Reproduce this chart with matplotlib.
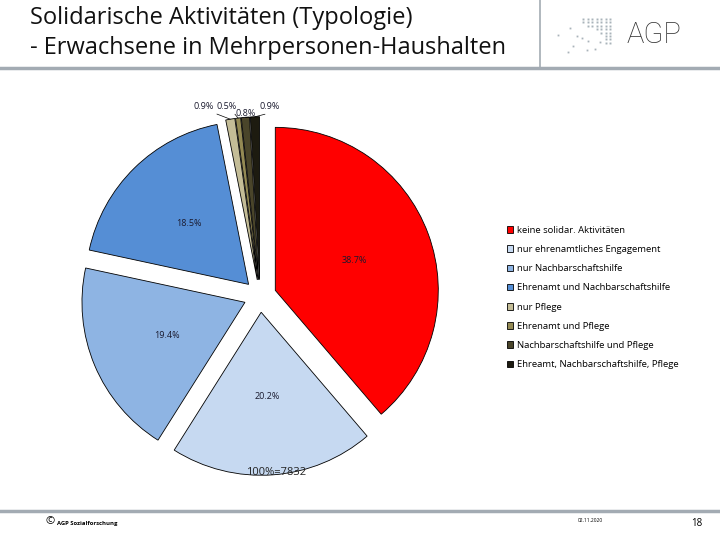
import numpy as np
import matplotlib
matplotlib.use('Agg')
import matplotlib.pyplot as plt
from matplotlib.lines import Line2D

plt.rcParams['font.family'] = ['Open Sans', 'DejaVu Sans']

# Data
categories = ['keine solidar. Aktivitäten',
              'nur ehrenamtliches Engagement',
              'nur Nachbarschaftshilfe',
              'Ehrenamt und Nachbarschaftshilfe',
              'nur Pflege',
              'Ehrenamt und Pflege',
              'Nachbarschaftshilfe und Pflege',
              'Ehreamt, Nachbarschaftshilfe, Pflege']
shares = [38.7, 20.2, 19.4, 18.5, 0.9, 0.5, 0.8, 0.9]
colors = ['#FF0000', '#C6D9F1', '#8EB4E3', '#558ED5',
          '#C4BD97', '#948A54', '#4A452A', '#1D1B10']
total_n = 7832

fig = plt.figure(figsize=(7.2, 5.4), dpi=100)

# header
fig.text(30 / 720, 1 - 18 / 540, 'Solidarische Aktivitäten (Typologie)',
         fontsize=17, va='center', ha='left', color='#111111')
fig.text(30 / 720, 1 - 48 / 540, '- Erwachsene in Mehrpersonen-Haushalten',
         fontsize=17, va='center', ha='left', color='#111111')
fig.add_artist(Line2D([0, 1], [1 - 68 / 540] * 2, color='#A3ABB3', lw=2.5))
fig.add_artist(Line2D([540 / 720] * 2, [1 - 68 / 540, 1], color='#A3ABB3', lw=1.2))
fig.text(627 / 720, 1 - 35 / 540, 'AGP', fontsize=21, va='center', ha='left',
         color='#333333', family=['Roboto', 'DejaVu Sans'], fontweight='light')

# dotted logo, drawn in pixel coordinates of the header
logo = fig.add_axes([550 / 720, 1 - 60 / 540, 70 / 720, 50 / 540])
logo.set_xlim(550, 620)
logo.set_ylim(60, 10)
logo.axis('off')
row_start = [0, 0, 1, 3, 4, 5, 5, 5]
for j, s in enumerate(row_start):
    for i in range(s, 7):
        logo.plot(583 + 4.5 * i, 19 + 3.4 * j, 's', ms=1.4, color='#A9B3BA', mew=0)
for (px, py) in [(570, 28), (558, 35), (577, 36), (582, 38), (588, 41),
                 (573, 46), (595, 49), (568, 52), (587, 50), (600, 42)]:
    logo.plot(px, py, 's', ms=1.3, color='#A9B3BA', mew=0)

# footer
fig.add_artist(Line2D([0, 1], [1 - 511 / 540] * 2, color='#A3ABB3', lw=2.5))
fig.text(45 / 720, 1 - 522 / 540, '©', fontsize=8, va='center', ha='left')
fig.text(57 / 720, 1 - 523 / 540, 'AGP Sozialforschung', fontsize=4.2,
         fontweight='bold', va='center', ha='left')
fig.text(578 / 720, 1 - 520 / 540, '02.11.2020', fontsize=3.5, va='center', ha='left')
fig.text(697 / 720, 1 - 524 / 540, '18', fontsize=7, va='center', ha='center')

# pie
ax = fig.add_axes([60 / 720, 44 / 540, 400 / 720, 400 / 540])
wedges, texts, autotexts = ax.pie(
    shares, colors=colors, startangle=90, counterclock=False,
    explode=[0.1] * len(shares), autopct='%1.1f%%', pctdistance=0.52,
    wedgeprops=dict(edgecolor='black', linewidth=0.6),
    textprops=dict(fontsize=6.5, color='#1A1A2E'))
ax.set_xlim(-1.227, 1.227)
ax.set_ylim(-1.227, 1.227)
ax.set_aspect('equal')
ax.axis('off')

for t, v in zip(autotexts, shares):
    t.set_text(f'{v:.1f}%')
    if v < 5:
        t.set_visible(False)

# labels for the tiny slices, placed above with leader lines
small_pos = [(-0.344, 1.16), (-0.205, 1.16), (-0.09, 1.12), (0.06, 1.16)]
k = 0
for w, v in zip(wedges, shares):
    if v >= 5:
        continue
    th = np.deg2rad((w.theta1 + w.theta2) / 2)
    cx, cy = w.center
    tip = (cx + w.r * np.cos(th), cy + w.r * np.sin(th))
    ax.annotate(f'{v:.1f}%', xy=tip, xytext=small_pos[k], fontsize=6.5,
                ha='center', va='center', color='#1A1A2E',
                arrowprops=dict(arrowstyle='-', color='black', lw=0.5,
                                shrinkA=0, shrinkB=0, relpos=(0.8, 0.0)))
    k += 1

ax.text(0.1, -1.085, f'100%={total_n}', fontsize=8, ha='center', va='center',
        color='#222222')

# legend
fig.legend(wedges, categories, loc='upper left',
           bbox_to_anchor=(502 / 720, 1 - 221 / 540), frameon=False,
           fontsize=6.8, handlelength=0.7, handleheight=0.7, handletextpad=0.35,
           labelspacing=1.08, borderpad=0)

fig.savefig('out.png', dpi=100)
